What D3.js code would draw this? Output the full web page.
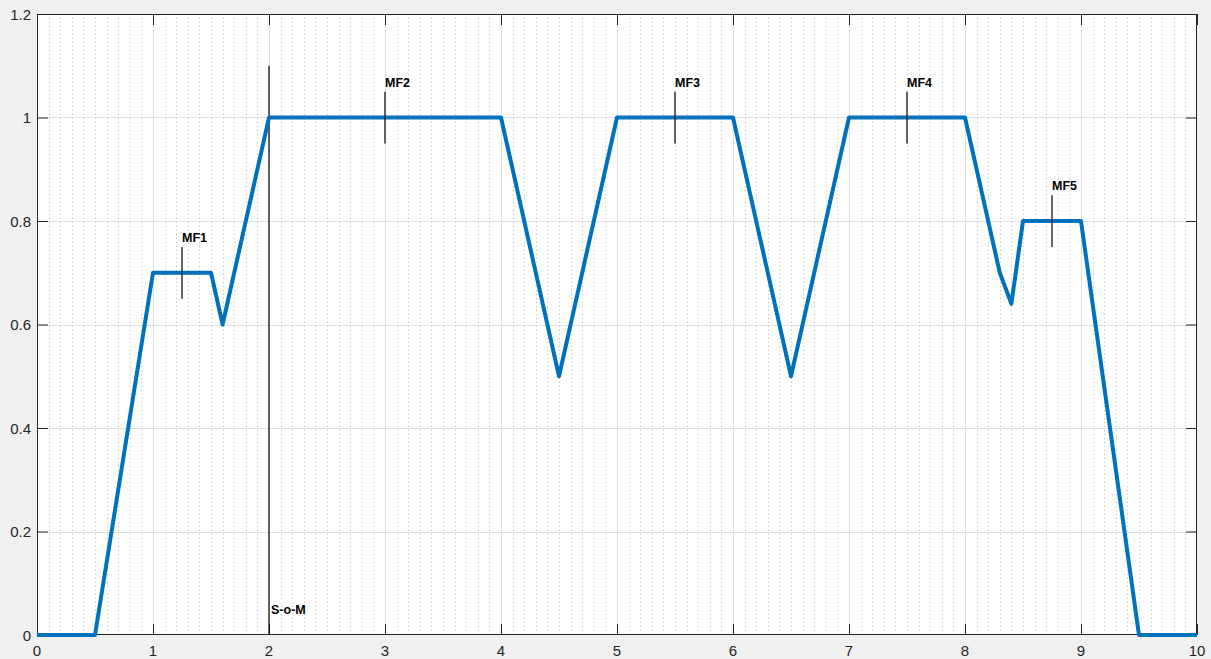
<!DOCTYPE html>
<html>
<head>
<meta charset="utf-8">
<script src="https://cdn.jsdelivr.net/npm/d3@7"></script>
<style>
  html, body { margin: 0; padding: 0; background: #f0f0f0; }
  svg { display: block; }
  text.ticklabel { font-family: "Liberation Sans", Arial, Helvetica, sans-serif; font-size: 15px; fill: #262626; }
  text.note { font-family: "Liberation Sans", Arial, Helvetica, sans-serif; font-size: 12.5px; font-weight: bold; fill: #000; }
</style>
</head>
<body>
<svg id="chart" width="1211" height="659"></svg>
<script>
// Membership profile: breakpoints of the piecewise-linear curve
const xs = [0, 0.5, 1, 1.5, 1.6, 2, 4, 4.5, 5, 6, 6.5, 7, 8, 8.3, 8.4, 8.5, 9, 9.5, 10];
const ys = [0, 0, 0.7, 0.7, 0.6, 1, 1, 0.5, 1, 1, 0.5, 1, 1, 0.7, 0.64, 0.8, 0.8, 0, 0];

// Marker names, their x position and the plateau level they sit on
const markerNames = ["MF1", "MF2", "MF3", "MF4", "MF5"];
const markerX = [1.25, 3, 5.5, 7.5, 8.75];
const markerY = [0.7, 1, 1, 1, 0.8];

// Start-of-match reference line
const somLabel = "S-o-M";
const somX = 2;
const somTop = 1.1;

const xTicks = [0, 1, 2, 3, 4, 5, 6, 7, 8, 9, 10];
const yTicks = [0, 0.2, 0.4, 0.6, 0.8, 1, 1.2];
const xMinor = d3.range(0, 101).map(i => i / 10);

const W = 1211, H = 659;
const m = { left: 37, right: 14, top: 14, bottom: 24 };
const iw = W - m.left - m.right, ih = H - m.top - m.bottom;

const svg = d3.select("#chart");
const g = svg.append("g").attr("transform", `translate(${m.left},${m.top})`);

const x = d3.scaleLinear().domain([0, 10]).range([0, iw]);
const y = d3.scaleLinear().domain([0, 1.2]).range([ih, 0]);

g.append("rect").attr("width", iw).attr("height", ih).attr("fill", "#ffffff");

// minor vertical grid (dotted)
g.append("g").selectAll("line").data(xMinor.filter(v => Math.abs(v - Math.round(v)) > 1e-6))
  .join("line")
  .attr("x1", d => Math.round(x(d)) + 0.5).attr("x2", d => Math.round(x(d)) + 0.5)
  .attr("y1", 0).attr("y2", ih)
  .attr("stroke", "#bcbcbc").attr("stroke-width", 1).attr("stroke-dasharray", "1,3");

// major grid
g.append("g").selectAll("line").data(xTicks.slice(1, -1)).join("line")
  .attr("x1", d => Math.round(x(d)) + 0.5).attr("x2", d => Math.round(x(d)) + 0.5)
  .attr("y1", 0).attr("y2", ih).attr("stroke", "#dedede");
g.append("g").selectAll("line").data(yTicks.slice(1, -1)).join("line")
  .attr("y1", d => Math.round(y(d)) + 0.5).attr("y2", d => Math.round(y(d)) + 0.5)
  .attr("x1", 0).attr("x2", iw).attr("stroke", "#dedede");

// inward tick marks on all four sides (axes supply positions; labels drawn separately)
const tl = 11;
const fmt = d3.format("~g");
const axB = g.append("g").attr("transform", `translate(0,${ih})`)
  .call(d3.axisBottom(x).tickValues(xTicks).tickFormat("").tickSizeInner(-tl).tickSizeOuter(0));
const axT = g.append("g")
  .call(d3.axisTop(x).tickValues(xTicks).tickFormat("").tickSizeInner(-tl).tickSizeOuter(0));
const axL = g.append("g")
  .call(d3.axisLeft(y).tickValues(yTicks).tickFormat("").tickSizeInner(-tl).tickSizeOuter(0));
const axR = g.append("g").attr("transform", `translate(${iw},0)`)
  .call(d3.axisRight(y).tickValues(yTicks).tickFormat("").tickSizeInner(-tl).tickSizeOuter(0));
[axB, axT, axL, axR].forEach(a => {
  a.select(".domain").remove();
  a.selectAll(".tick line").attr("stroke", "#262626");
});

// tick labels
g.append("g").selectAll("text").data(xTicks).join("text")
  .attr("class", "ticklabel")
  .attr("x", d => x(d)).attr("y", ih + 21)
  .attr("text-anchor", "middle")
  .text(fmt);
g.append("g").selectAll("text").data(yTicks).join("text")
  .attr("class", "ticklabel")
  .attr("x", -6).attr("y", d => y(d) + 5.5)
  .attr("text-anchor", "end")
  .text(fmt);

g.append("rect").attr("x", 0.5).attr("y", 0.5).attr("width", iw - 1).attr("height", ih - 1)
  .attr("fill", "none").attr("stroke", "#262626").attr("stroke-width", 1);

// S-o-M vertical line and label
g.append("line")
  .attr("x1", x(somX)).attr("x2", x(somX)).attr("y1", y(0)).attr("y2", y(somTop))
  .attr("stroke", "#000").attr("stroke-width", 1.2);
g.append("text").attr("class", "note").attr("x", x(somX) + 2).attr("y", y(0.05) + 4.5)
  .text(somLabel);

// the profile curve
const pts = xs.map((v, i) => [v, ys[i]]);
g.append("path").datum(pts)
  .attr("fill", "none").attr("stroke", "#0072BD").attr("stroke-width", 4)
  .attr("stroke-linejoin", "round")
  .attr("d", d3.line().x(d => x(d[0])).y(d => y(d[1])));

// marker ticks and labels
markerNames.forEach((name, i) => {
  g.append("line")
    .attr("x1", x(markerX[i])).attr("x2", x(markerX[i]))
    .attr("y1", y(markerY[i] - 0.05)).attr("y2", y(markerY[i] + 0.05))
    .attr("stroke", "#000").attr("stroke-width", 1.2);
  g.append("text").attr("class", "note")
    .attr("x", x(markerX[i])).attr("y", y(markerY[i] + 0.068) + 4.5)
    .text(name);
});
</script>
</body>
</html>
